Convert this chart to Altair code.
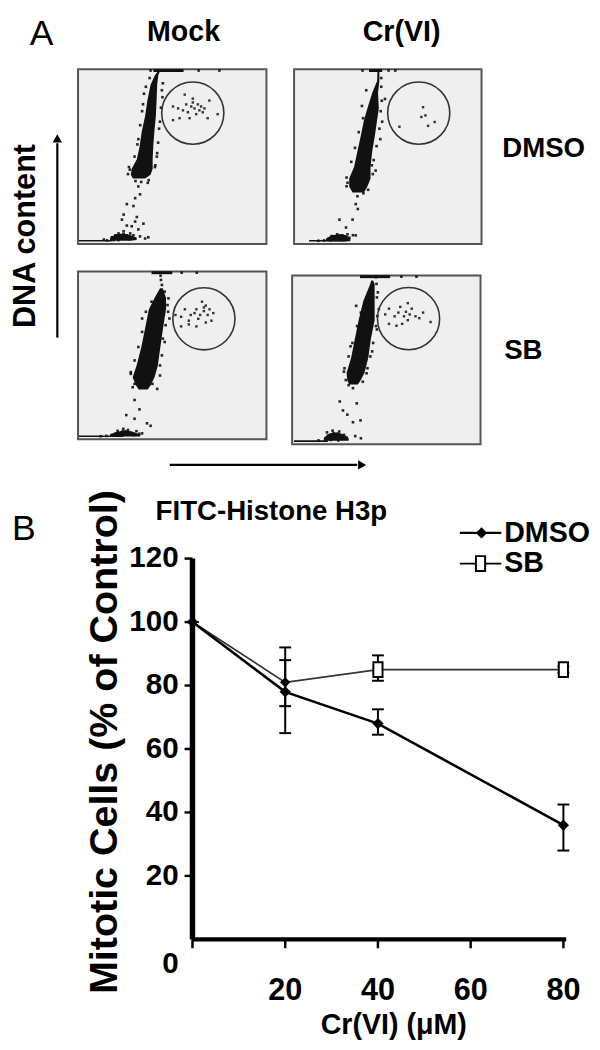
import altair as alt
import pandas as pd

# ---------------- Panel B : mitotic cells ----------------
conc = [0, 20, 40, 80]
dmso_mean = [100, 78, 68, 36]
dmso_low = [100, 65, 64.5, 28]
dmso_high = [100, 92, 72.5, 42.5]
sb_mean = [100, 81, 85, 85]
sb_low = [100, 73.5, 81.5, 84]
sb_high = [100, 88, 89.5, 86]
y_ticks = [20, 40, 60, 80, 100, 120]
x_ticks = [0, 20, 40, 60, 80]
x_tick_labels = [20, 40, 60, 80]
y_axis_span = [0, 120]
x_axis_span = [0, 80.6]

# ---------------- Panel A : flow cytometry (percent of plot width/height) ----------------
# Mock / DMSO
p1_band_y = [99, 96.6, 91.1, 82.1, 73.2, 64.2, 55.3, 48.5, 43.0, 39.6, 37.4]
p1_band_xl = [42.5, 40.8, 38.5, 36.8, 35.6, 33.8, 32.6, 31.2, 28.5, 28.0, 29.1]
p1_band_xr = [43.5, 42.6, 42.0, 41.7, 41.3, 40.5, 39.9, 39.6, 39.6, 38.5, 35.6]
p1_dots_x = [38.0, 44.5, 35.0, 43.5, 32.0, 42.0, 27.5, 41.0, 30.5, 37.5, 44.0, 34.0,
             32.0, 30.3, 32.9, 25.9, 29.4, 24.2, 31.2, 30.3, 23.3, 34.7, 25.9, 32.0, 28.5,
             18.0, 19.8, 20.7, 21.5, 22.4, 23.3, 24.2, 25.0, 25.9, 26.8, 27.7, 28.5, 29.4, 30.3,
             24.2, 21.5, 18.9, 15.4, 13.7, 32.9, 35.6, 37.3, 64.0, 75.0, 38.5,
             45.0, 44.8, 43.0, 42.5, 41.8, 40.8, 36.0, 34.5, 33.0, 31.5, 30.0, 27.0, 26.5, 37.0, 33.5]
p1_dots_y = [95.0, 88.0, 86.0, 70.0, 60.0, 52.0, 42.5, 45.0, 36.0, 36.5, 78.0, 76.0,
             32.9, 26.2, 28.4, 22.8, 21.7, 16.8, 15.4, 12.8, 13.9, 11.6, 10.5, 8.3, 10.1,
             3.8, 4.9, 2.7, 6.0, 4.3, 3.4, 5.6, 3.8, 4.9, 2.7, 6.0, 3.8, 4.9, 3.1,
             7.2, 2.2, 2.2, 2.0, 2.5, 4.3, 3.1, 3.8, 99.3, 99.3, 99.3,
             92.0, 84.0, 66.0, 58.0, 50.0, 44.0, 90.0, 80.0, 68.0, 57.0, 50.0, 44.0, 40.0, 35.0, 35.5]
p1_gate_x = [50.4, 53.1, 55.7, 56.6, 58.3, 60.1, 60.9, 61.8, 62.7, 63.6, 64.4, 65.3, 67.1,
             69.7, 68.8, 74.1, 50.4, 53.9, 59.2, 60.9, 57.4, 66.2]
p1_gate_y = [78.7, 77.6, 76.5, 85.5, 75.4, 78.7, 81.0, 77.6, 74.3, 79.9, 76.5, 78.7, 77.6,
             82.1, 72.0, 74.3, 70.9, 72.0, 72.0, 83.2, 79.9, 75.4]
p1_gate_center = [60.9, 74.9]
p1_sub_x = [17, 20, 24, 28, 31]
p1_sub_lo = [1.8, 1.8, 1.8, 1.8, 2.2]
p1_sub_hi = [3.5, 5.5, 6.0, 5.0, 3.5]
p1_strip = [40, 56]
p1_base = [0.5, 18]

# Cr(VI) / DMSO
p2_band_y = [99, 93.3, 86.6, 77.6, 70.9, 62.0, 53.0, 44.1, 37.4, 32.9, 29.5]
p2_band_xl = [44.5, 44.3, 41.7, 39.1, 37.3, 35.6, 33.8, 32.0, 29.4, 29.4, 31.2]
p2_band_xr = [45.5, 45.5, 44.8, 45.2, 44.3, 43.1, 41.7, 40.8, 40.8, 39.1, 37.3]
p2_dots_x = [36.2, 47.0, 48.5, 44.0, 41.5, 43.5, 37.0, 28.0, 46.0, 46.5,
             32.9, 33.8, 24.2, 31.2, 27.7, 32.9, 25.0, 34.0,
             18.5, 20.0, 21.5, 23.0, 24.5, 26.0, 27.5, 28.5, 22.0, 25.5, 19.5, 29.5, 31.4, 16.0, 13.0,
             36.5, 50.4, 54.0,
             46.5, 46.8, 46.2, 45.5, 44.0, 42.5, 42.0, 38.5, 36.8, 34.5, 32.5, 30.5, 28.0, 28.5, 39.5]
p2_dots_y = [79.0, 70.0, 83.0, 85.0, 45.0, 42.0, 29.0, 33.0, 60.0, 90.0,
             22.8, 27.3, 13.9, 13.9, 9.4, 4.9, 4.9, 20.0,
             3.0, 4.5, 2.5, 5.5, 3.5, 4.8, 2.8, 5.5, 3.8, 2.2, 2.2, 3.5, 5.0, 2.0, 1.8,
             99.3, 99.3, 99.3,
             95.0, 82.0, 76.0, 66.0, 56.0, 48.0, 40.0, 88.0, 72.0, 64.0, 55.0, 47.0, 38.0, 35.0, 31.0]
p2_gate_x = [68.8, 67.9, 70.1, 71.5, 75.0, 56.2]
p2_gate_y = [78.3, 72.7, 73.6, 67.6, 69.8, 67.1]
p2_gate_center = [66.5, 74.9]
p2_sub_x = [17, 20, 24, 28, 30]
p2_sub_lo = [1.5, 1.5, 1.5, 1.5, 1.5]
p2_sub_hi = [3.0, 5.0, 5.5, 5.0, 3.0]
p2_strip = [40, 47]
p2_base = [8, 28]

# Mock / SB
p3_band_y = [90, 84.2, 77.5, 66.2, 55.0, 43.7, 36.9, 32.4, 29.7]
p3_band_xl = [43.5, 40.6, 37.6, 35.6, 33.6, 31.0, 29.0, 30.6, 32.2]
p3_band_xr = [45.0, 46.7, 46.7, 45.1, 43.7, 42.3, 40.6, 38.6, 37.0]
p3_dots_x = [44.0, 44.5, 43.8, 47.5, 48.5, 34.0, 46.0, 28.0, 43.5, 42.0, 29.0,
             30.0, 25.6, 30.0, 36.6, 32.6, 38.5,
             18.0, 20.0, 22.0, 23.5, 25.0, 26.5, 28.0, 29.5, 31.0, 32.5, 24.0, 21.0, 34.0, 15.0, 12.0,
             55.0, 63.0,
             46.0, 48.0, 47.8, 46.5, 45.0, 44.5, 43.5, 39.0, 36.0, 34.0, 32.0, 30.0, 28.0, 30.0, 39.5]
p3_dots_y = [95.0, 92.0, 97.5, 80.0, 72.0, 72.0, 58.0, 40.0, 38.0, 30.0, 31.0,
             23.4, 14.4, 12.2, 9.5, 17.8, 8.0,
             2.5, 3.5, 2.2, 4.5, 3.0, 5.5, 3.8, 2.5, 4.8, 3.2, 6.2, 5.0, 3.5, 2.0, 1.8,
             99.3, 99.3,
             88.0, 84.0, 76.0, 68.0, 60.0, 50.0, 44.0, 82.0, 76.0, 64.0, 55.0, 47.0, 39.0, 33.0, 33.0]
p3_gate_x = [51.7, 54.7, 56.7, 58.8, 59.8, 61.8, 62.8, 63.8, 64.8, 66.8, 67.8, 68.8, 69.8,
             70.8, 67.8, 62.8, 54.7, 58.8, 71.8, 65.8, 66.8]
p3_gate_y = [74.1, 73.0, 77.5, 70.7, 74.1, 75.2, 77.5, 71.8, 74.1, 76.4, 79.7, 74.1, 77.5,
             70.7, 69.6, 67.3, 67.3, 68.5, 75.2, 82.0, 78.6]
p3_gate_center = [66.8, 71.8]
p3_sub_x = [17, 21, 25, 29, 33]
p3_sub_lo = [1.6, 1.6, 1.6, 1.6, 1.6]
p3_sub_hi = [3.0, 4.5, 5.5, 4.5, 2.8]
p3_strip = [39, 50]
p3_base = [0.5, 24]

# Cr(VI) / SB
p4_band_y = [97, 94.8, 84.8, 73.5, 62.3, 51.1, 42.2, 37.7, 35.4]
p4_band_xl = [42.0, 41.4, 37.8, 35.3, 33.3, 31.3, 28.9, 29.3, 30.3]
p4_band_xr = [43.0, 43.8, 43.8, 43.8, 41.8, 40.4, 38.4, 36.3, 34.9]
p4_dots_x = [45.5, 46.0, 34.0, 45.0, 31.0, 42.5, 27.5, 40.0, 30.0, 44.5,
             32.3, 34.3, 25.3, 29.3, 32.3, 36.3, 27.0,
             17.5, 19.0, 20.5, 22.0, 23.5, 25.0, 26.5, 27.5, 29.0, 21.5, 24.5, 18.5, 33.5, 36.5, 14.0,
             58.0, 66.0,
             44.8, 45.0, 45.2, 44.5, 43.0, 41.5, 39.5, 39.0, 36.5, 34.5, 32.0, 30.0, 27.8, 28.5, 37.5]
p4_dots_y = [90.0, 80.0, 82.0, 68.0, 58.0, 55.0, 43.0, 45.0, 35.0, 99.0,
             33.2, 24.2, 25.3, 17.5, 13.0, 14.1, 20.0,
             3.0, 5.0, 2.5, 6.5, 4.0, 7.5, 3.2, 5.5, 3.8, 8.0, 2.2, 7.0, 4.8, 3.5, 2.2,
             99.3, 99.3,
             95.0, 87.0, 76.0, 70.0, 60.0, 52.0, 42.0, 84.0, 78.0, 70.0, 60.0, 52.0, 45.0, 38.0, 37.0]
p4_gate_x = [49.4, 51.4, 54.4, 56.4, 57.4, 59.4, 60.4, 61.4, 62.4, 63.5, 65.5, 67.5, 73.5,
             51.4, 55.4, 58.4, 69.5, 61.4]
p4_gate_y = [76.9, 80.3, 75.8, 78.0, 81.4, 75.8, 78.5, 73.5, 76.9, 80.3, 75.8, 74.7, 72.4,
             71.3, 70.2, 71.3, 78.0, 83.6]
p4_gate_center = [61.8, 74.4]
p4_sub_x = [17, 20, 24, 28, 30]
p4_sub_lo = [2.0, 2.0, 2.0, 2.0, 2.0]
p4_sub_hi = [4.0, 6.5, 7.0, 5.5, 3.5]
p4_strip = [36, 52]
p4_base = [1, 19]

strip_level = 99.3
base_level = 1.8
frame = [0, 100]

# ---------------- layout (page pixels, page margin 8) ----------------
M = 8
def P(v):
    return v - M

SANS = "Liberation Sans, Arial, sans-serif"
NARROW = "Liberation Sans Narrow, Arial Narrow, Liberation Sans, sans-serif"
INK = "#111111"

layers = []


def txt(s, x, y, size, font=SANS, weight="bold", align="center", angle=0):
    c = alt.Chart(pd.DataFrame({"t": [s]})).mark_text(
        font=font, fontSize=size, fontWeight=weight, align=align, baseline="middle",
        angle=angle, color="#000000")
    return c.encode(text="t:N", x=alt.value(P(x)), y=alt.value(P(y)))


def panel(box, band_y, band_xl, band_xr, dots_x, dots_y, gate_x, gate_y, center,
          sub_x, sub_lo, sub_hi, strip, base):
    x0, x1, y0, y1 = box
    xs = alt.Scale(domain=[0, 100], range=[P(x0), P(x1)], nice=False, zero=False)
    ys = alt.Scale(domain=[0, 100], range=[P(y1), P(y0)], nice=False, zero=False)
    X = lambda f: alt.X(f, type="quantitative", scale=xs, axis=None)
    Y = lambda f: alt.Y(f, type="quantitative", scale=ys, axis=None)
    out = []
    out.append(alt.Chart(pd.DataFrame({"a": [frame[0]], "b": [frame[1]]})).mark_rect(
        fill="#efefef", stroke="#555555", strokeWidth=2).encode(
        x=X("a"), x2="b", y=Y("a"), y2="b"))
    out.append(alt.Chart(pd.DataFrame({"y": band_y, "xl": band_xl, "xr": band_xr})).mark_area(
        orient="horizontal", color=INK).encode(y=Y("y"), x=X("xl"), x2="xr"))
    out.append(alt.Chart(pd.DataFrame({"x": sub_x, "lo": sub_lo, "hi": sub_hi})).mark_area(
        orient="vertical", color=INK).encode(x=X("x"), y=Y("lo"), y2="hi"))
    out.append(alt.Chart(pd.DataFrame({"a": [strip[0]], "b": [strip[1]], "y": [strip_level]})).mark_rule(
        color=INK, strokeWidth=3).encode(x=X("a"), x2="b", y=Y("y")))
    out.append(alt.Chart(pd.DataFrame({"a": [base[0]], "b": [base[1]], "y": [base_level]})).mark_rule(
        color=INK, strokeWidth=1.6).encode(x=X("a"), x2="b", y=Y("y")))
    out.append(alt.Chart(pd.DataFrame({"x": dots_x, "y": dots_y})).mark_square(
        size=7, color=INK, opacity=0.9).encode(x=X("x"), y=Y("y")))
    out.append(alt.Chart(pd.DataFrame({"x": gate_x, "y": gate_y})).mark_square(
        size=6, color=INK, opacity=0.85).encode(x=X("x"), y=Y("y")))
    out.append(alt.Chart(pd.DataFrame({"x": [center[0]], "y": [center[1]]})).mark_point(
        shape="circle", filled=False, size=3969, stroke="#333333", strokeWidth=1.6,
        opacity=1).encode(x=X("x"), y=Y("y")))
    return out


layers += panel((79, 270, 63, 240), p1_band_y, p1_band_xl, p1_band_xr, p1_dots_x, p1_dots_y,
                p1_gate_x, p1_gate_y, p1_gate_center, p1_sub_x, p1_sub_lo, p1_sub_hi, p1_strip, p1_base)
layers += panel((298, 488, 63, 240), p2_band_y, p2_band_xl, p2_band_xr, p2_dots_x, p2_dots_y,
                p2_gate_x, p2_gate_y, p2_gate_center, p2_sub_x, p2_sub_lo, p2_sub_hi, p2_strip, p2_base)
layers += panel((79, 270, 268, 438), p3_band_y, p3_band_xl, p3_band_xr, p3_dots_x, p3_dots_y,
                p3_gate_x, p3_gate_y, p3_gate_center, p3_sub_x, p3_sub_lo, p3_sub_hi, p3_strip, p3_base)
layers += panel((296, 487, 272, 443), p4_band_y, p4_band_xl, p4_band_xr, p4_dots_x, p4_dots_y,
                p4_gate_x, p4_gate_y, p4_gate_center, p4_sub_x, p4_sub_lo, p4_sub_hi, p4_strip, p4_base)

# panel A labels and arrows
layers.append(txt("A", 42, 27, 36, weight="normal"))
layers.append(txt("Mock", 186, 25, 29))
layers.append(txt("Cr(VI)", 407, 25, 29))
layers.append(txt("DMSO", 509, 144, 28, align="left"))
layers.append(txt("SB", 511, 349, 28, align="left"))
layers.append(txt("DNA content", 26, 232, 31, angle=270))
layers.append(txt("FITC-Histone H3p", 275, 512, 28))

one = pd.DataFrame({"k": [0]})
layers.append(alt.Chart(one).mark_rule(color="#000", strokeWidth=2.2).encode(
    x=alt.value(P(58)), y=alt.value(P(335)), y2=alt.value(P(138))))
layers.append(alt.Chart(one).mark_point(shape="triangle-up", filled=True, size=90, color="#000",
                                        opacity=1).encode(x=alt.value(P(58)), y=alt.value(P(133))))
layers.append(alt.Chart(one).mark_rule(color="#000", strokeWidth=2.2).encode(
    x=alt.value(P(172)), x2=alt.value(P(362)), y=alt.value(P(464))))
layers.append(alt.Chart(one).mark_point(shape="triangle-right", filled=True, size=90, color="#000",
                                        opacity=1).encode(x=alt.value(P(367)), y=alt.value(P(464))))

# ---------------- panel B ----------------
BX0, BX80 = 195, 571
BY0, BY120 = 945, 559
xb = alt.Scale(domain=[0, 80], range=[P(BX0), P(BX80)], nice=False, zero=False)
yb = alt.Scale(domain=[0, 120], range=[P(BY0), P(BY120)], nice=False, zero=False)
XB = lambda f: alt.X(f, type="quantitative", scale=xb, axis=None)
YB = lambda f: alt.Y(f, type="quantitative", scale=yb, axis=None)

layers.append(alt.Chart(pd.DataFrame({"x": [0], "a": [y_axis_span[0]], "b": [y_axis_span[1]]})).mark_rule(
    color="#000", strokeWidth=5.5).encode(x=XB("x"), y=YB("a"), y2="b"))
layers.append(alt.Chart(pd.DataFrame({"y": [0], "a": [x_axis_span[0]], "b": [x_axis_span[1]]})).mark_rule(
    color="#000", strokeWidth=4.5).encode(y=YB("y"), x=XB("a"), x2="b"))
layers.append(alt.Chart(pd.DataFrame({"v": y_ticks})).mark_rule(color="#000", strokeWidth=2.5).encode(
    y=YB("v"), x=alt.value(P(BX0 - 8)), x2=alt.value(P(BX0))))
layers.append(alt.Chart(pd.DataFrame({"v": x_ticks})).mark_rule(color="#000", strokeWidth=2.5).encode(
    x=XB("v"), y=alt.value(P(BY0)), y2=alt.value(P(BY0 + 9))))
layers.append(alt.Chart(pd.DataFrame({"v": y_ticks})).mark_text(
    font=NARROW, fontSize=30, fontWeight="bold", align="right", baseline="middle", color="#000").encode(
    y=YB("v"), x=alt.value(P(181)), text="v:Q"))
layers.append(txt("0", 181, 970, 30, font=NARROW, align="right"))
layers.append(alt.Chart(pd.DataFrame({"v": x_tick_labels})).mark_text(
    font=NARROW, fontSize=31, fontWeight="bold", align="center", baseline="middle", color="#000").encode(
    x=XB("v"), y=alt.value(P(997)), text="v:Q"))
layers.append(txt("Cr(VI) (\u03bcM)", 399, 1032, 29, font=NARROW))
layers.append(txt("Mitotic Cells (% of Control)", 106, 745, 40, font=NARROW, angle=270))
layers.append(txt("B", 24, 529, 36, weight="normal"))

bdf = pd.DataFrame({"c": conc, "dm": dmso_mean, "dl": dmso_low, "dh": dmso_high,
                    "sm": sb_mean, "sl": sb_low, "sh": sb_high})
caps = pd.DataFrame({"c": conc * 4, "v": dmso_low + dmso_high + sb_low + sb_high})

layers.append(alt.Chart(bdf).mark_rule(color="#000", strokeWidth=2).encode(x=XB("c"), y=YB("dl"), y2="dh"))
layers.append(alt.Chart(bdf).mark_rule(color="#000", strokeWidth=2).encode(x=XB("c"), y=YB("sl"), y2="sh"))
layers.append(alt.Chart(caps).mark_tick(orient="horizontal", size=12, thickness=2, color="#000",
                                        opacity=1).encode(x=XB("c"), y=YB("v")))
layers.append(alt.Chart(bdf).mark_line(color="#333", strokeWidth=1.7).encode(x=XB("c"), y=YB("sm")))
layers.append(alt.Chart(bdf).mark_line(color="#000", strokeWidth=2.6).encode(x=XB("c"), y=YB("dm")))
layers.append(alt.Chart(bdf).mark_point(shape="diamond", filled=True, size=130, color="#000",
                                        opacity=1).encode(x=XB("c"), y=YB("dm")))
layers.append(alt.Chart(bdf[bdf["c"] == 20]).mark_point(shape="diamond", filled=True, size=110, color="#000",
                                                         opacity=1).encode(x=XB("c"), y=YB("sm")))
SQ = "M-0.62,-1L0.62,-1L0.62,1L-0.62,1Z"
layers.append(alt.Chart(bdf[bdf["c"] >= 40]).mark_point(shape=SQ, filled=True, size=225, fill="#ffffff",
                                                         stroke="#000", strokeWidth=2,
                                                         opacity=1).encode(x=XB("c"), y=YB("sm")))

# legend
LY1, LY2 = 533, 564
layers.append(alt.Chart(one).mark_rule(color="#000", strokeWidth=2.2).encode(
    x=alt.value(P(466)), x2=alt.value(P(508)), y=alt.value(P(LY1))))
layers.append(alt.Chart(one).mark_point(shape="diamond", filled=True, size=130, color="#000",
                                        opacity=1).encode(x=alt.value(P(488)), y=alt.value(P(LY1))))
layers.append(alt.Chart(one).mark_rule(color="#000", strokeWidth=1.8).encode(
    x=alt.value(P(466)), x2=alt.value(P(508)), y=alt.value(P(LY2))))
layers.append(alt.Chart(one).mark_point(shape=SQ, filled=True, size=225, fill="#ffffff", stroke="#000",
                                        strokeWidth=2, opacity=1).encode(
    x=alt.value(P(487)), y=alt.value(P(LY2))))
layers.append(txt("DMSO", 511, LY1, 29, font=NARROW, align="left"))
layers.append(txt("SB", 511, LY2, 29, font=NARROW, align="left"))

chart = alt.layer(*layers).resolve_scale(x="independent", y="independent").properties(
    width=592, height=1042, autosize=alt.AutoSizeParams(type="none"), padding=0
).configure_view(strokeWidth=0)

chart.save("out.html", embed_options={"renderer": "svg", "actions": False})
